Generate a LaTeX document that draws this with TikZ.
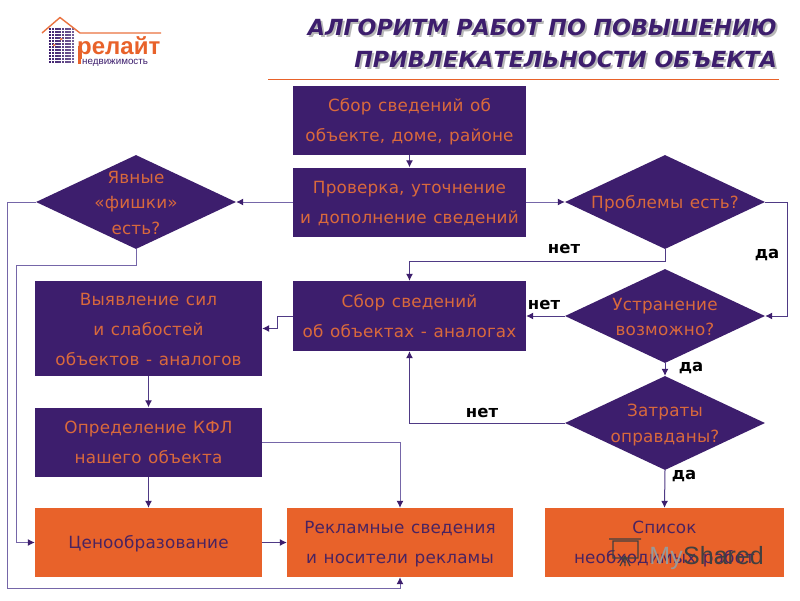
\documentclass[tikz,border=0pt]{standalone}
\usepackage{fontspec}
\usetikzlibrary{shapes.geometric,arrows.meta}
\setmainfont{DejaVu Sans}
\newfontfamily\bodyf[LetterSpace=1,WordSpace=1.2]{DejaVu Sans}
\newfontfamily\logof{Liberation Sans}
\definecolor{pur}{HTML}{3D1E6D}
\definecolor{org}{HTML}{E8622A}
\definecolor{txo}{HTML}{D9693C}
\definecolor{txd}{HTML}{4A2360}
\definecolor{lin}{HTML}{7566A8}
\definecolor{lind}{HTML}{4F3A85}
\tikzset{
  box/.style={rectangle,fill=pur,inner sep=0},
  obox/.style={box,fill=org},
  blab/.style={text=txo,inner sep=0,align=center,font=\bodyf\fontsize{16.8}{30}\selectfont},
  oblab/.style={blab,text=txd},
  dia/.style={diamond,fill=pur,inner sep=0,minimum width=200,minimum height=94},
  dlab/.style={text=txo,inner sep=0,align=center,font=\bodyf\fontsize{16.8}{25.5}\selectfont},
  ans/.style={font=\bfseries\fontsize{16.5}{16.5}\selectfont,text=black,inner sep=0},
  con/.style={draw=lin,line width=1pt,-{Latex[length=7pt,width=7pt,color=pur]}},
  cond/.style={con,draw=lind},
  ttl/.style={font=\bfseries\itshape\fontsize{22.2}{22.2}\selectfont,inner sep=0,anchor=east},
}
\begin{document}
\begin{tikzpicture}[x=1pt,y=-1pt]
\useasboundingbox (0,0) rectangle (800,600);
\fill[white] (0,0) rectangle (800,600);
% logo
\foreach \c in {0,...,7}{\foreach \r in {0,...,11}{
  \fill[pur!\the\numexpr 100-\c*4\relax] (48.5+\c*3.3,28+\r*3) rectangle ++(2.6,2.3);}}
\fill[org!80] (60,38) rectangle ++(2.3,2) (53,44) rectangle ++(2.3,2);
\draw[org!90,line width=1.4pt] (42,33) -- (60,17.5) -- (80,33) -- (161,33);
\node[inner sep=0,anchor=base west,text=org] (logoa) at (77,54) {\logof\bfseries\fontsize{24}{24}\selectfont релайт};
\fill[org] (77.8,46) rectangle (81,63.5);
\node[inner sep=0,anchor=base west,text=pur] (logob) at (82,64) {\logof\fontsize{9.8}{10}\selectfont недвижимость};
% title
\node[ttl,text=black!28] (t1s) at (779,29) {АЛГОРИТМ РАБОТ ПО ПОВЫШЕНИЮ};
\node[ttl,text=pur] (t1) at (777,27) {АЛГОРИТМ РАБОТ ПО ПОВЫШЕНИЮ};
\node[ttl,text=black!28] (t2s) at (779,61) {ПРИВЛЕКАТЕЛЬНОСТИ ОБЪЕКТА};
\node[ttl,text=pur] (t2) at (777,59) {ПРИВЛЕКАТЕЛЬНОСТИ ОБЪЕКТА};
\draw[org,line width=1pt] (268,79.5) -- (779,79.5);
% boxes
\node[box,minimum width=233,minimum height=69] (b1) at (409.5,120.5) {};
\node[box,minimum width=233,minimum height=69] (b2) at (409.5,202) {};
\node[box,minimum width=233,minimum height=70] (b3) at (409.5,316) {};
\node[box,minimum width=227,minimum height=95] (b4) at (148.5,328.5) {};
\node[box,minimum width=227,minimum height=69] (b5) at (148.5,442) {};
\node[obox,minimum width=227,minimum height=69] (b6) at (148.5,542.5) {};
\node[obox,minimum width=226,minimum height=69] (b7) at (400,542.5) {};
\node[obox,minimum width=239,minimum height=69] (b8) at (664.5,542.5) {};
\node[blab] (b1t) at ([yshift=-1pt]b1) {Сбор сведений об\\объекте, доме, районе};
\node[blab] (b2t) at ([yshift=-2pt]b2) {Проверка, уточнение\\и дополнение сведений};
\node[blab] (b3t) at (b3) {Сбор сведений\\об объектах - аналогах};
\node[blab] (b4t) at ([yshift=-1pt]b4) {Выявление сил\\и слабостей\\объектов - аналогов};
\node[blab] (b5t) at (b5) {Определение КФЛ\\нашего объекта};
\node[oblab] (b6t) at ([yshift=-1.5pt]b6) {Ценообразование};
\node[oblab] (b7t) at ([yshift=-1.5pt]b7) {Рекламные сведения\\и носители рекламы};
\node[oblab] (b8t) at ([yshift=-1.5pt]b8) {Список\\необходимых работ};
% diamonds
\node[dia] (d1) at (136,202) {};
\node[dia] (d2) at (665,202) {};
\node[dia] (d3) at (665,316) {};
\node[dia] (d4) at (665,423) {};
\node[dlab] (d1t) at ([yshift=-0.5pt]d1) {Явные\\«фишки»\\есть?};
\node[dlab] (d2t) at ([yshift=-2pt]d2) {Проблемы есть?};
\node[dlab] (d3t) at ([yshift=-1pt]d3) {Устранение\\возможно?};
\node[dlab] (d4t) at ([yshift=-2pt]d4) {Затраты\\оправданы?};
% connectors
\coordinate (c1a) at (665,261); \coordinate (c1b) at (409.5,261);
\coordinate (c2a) at (787,202); \coordinate (c2b) at (787,316);
\coordinate (c3) at (409.5,423);
\coordinate (c4a) at (277,316); \coordinate (c4b) at (277,328.5);
\coordinate (c5) at (400,442);
\coordinate (c6a) at (7,202); \coordinate (c6b) at (7,588); \coordinate (c6c) at (400,588);
\coordinate (c7a) at (136,265); \coordinate (c7b) at (16,265); \coordinate (c7c) at (16,542.5);
\draw[cond] (b1) -- (b2);
\draw[con] (b2) -- (d1);
\draw[con] (b2) -- (d2);
\draw[cond] (d2.south) -- (c1a) -- (c1b) -- (b3.north);
\draw[cond] (d2.east) -- (c2a) -- (c2b) -- (d3.east);
\draw[cond] (d3.west) -- (b3.east);
\draw[cond] (d3.south) -- (d4.north);
\draw[cond] (d4.west) -- (c3) -- (b3.south);
\draw[cond] (d4.south) -- (b8.north);
\draw[cond] (b3.west) -- (c4a) -- (c4b) -- (b4.east);
\draw[cond] (b4.south) -- (b5.north);
\draw[cond] (b5.south) -- (b6.north);
\draw[con] (b5.east) -- (c5) -- (b7.north);
\draw[cond] (b6.east) -- (b7.west);
\draw[con] (d1.west) -- (c6a) -- (c6b) -- (c6c) -- (b7.south);
\draw[con] (d1.south) -- (c7a) -- (c7b) -- (c7c) -- (b6.west);
% answers
\node[ans] (a1) at (564,249) {нет};
\node[ans] (a2) at (767,255) {да};
\node[ans] (a3) at (544,305) {нет};
\node[ans] (a4) at (691,368) {да};
\node[ans] (a5) at (482,413) {нет};
\node[ans] (a6) at (684,476) {да};
% watermark
\node[inner sep=0,anchor=base west,text=black!75] (wm) at (683,564) {\logof\fontsize{25}{25}\selectfont Shared};
\node[inner sep=0,anchor=base east,text=black!40] (wm2) at (683,564) {\logof\fontsize{25}{25}\selectfont My};
\draw[black!75,line width=1.2pt] (613,541) rectangle (638,558) (609,539) -- (641,539) (620,566) -- (625,556) -- (630,566) (625,556) -- (625,566);
\end{tikzpicture}
\end{document}
